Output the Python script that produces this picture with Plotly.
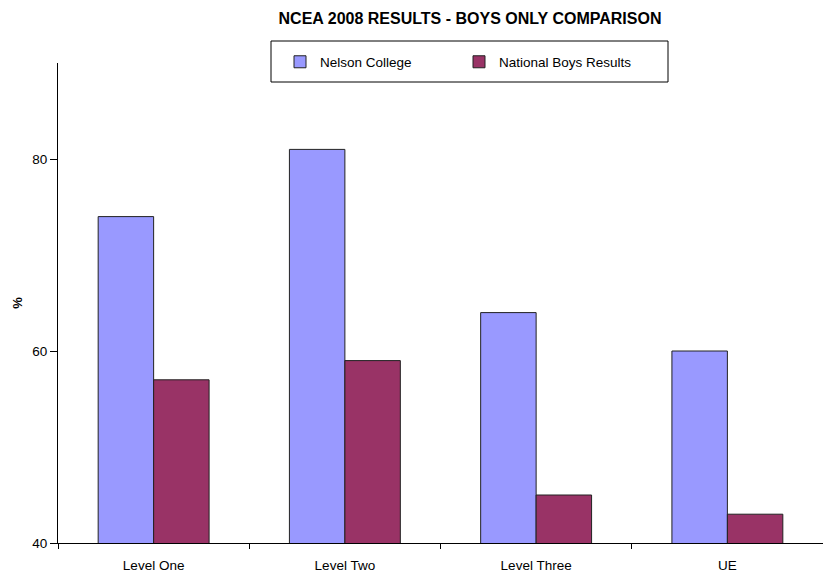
import plotly.graph_objects as go

categories = ["Level One", "Level Two", "Level Three", "UE"]
nelson = [74, 81, 64, 60]
national = [57, 59, 45, 43]
y_ticks = [40, 60, 80]

W, H = 823, 577
ml, mr, mt, mb = 58, 0, 63, 34
pw = W - ml - mr
ph = H - mt - mb

def px_x(x):
    return (x - ml) / pw

def px_y(y):
    return (H - mb - y) / ph

fig = go.Figure()
fig.add_trace(go.Bar(name="Nelson College", x=categories, y=nelson,
                     marker=dict(color="#9999FF", line=dict(color="#222222", width=1))))
fig.add_trace(go.Bar(name="National Boys Results", x=categories, y=national,
                     marker=dict(color="#993366", line=dict(color="#222222", width=1))))

font = "Liberation Sans, Arial, sans-serif"
fig.update_layout(
    width=W, height=H,
    margin=dict(l=ml, r=mr, t=mt, b=mb),
    plot_bgcolor="white", paper_bgcolor="white",
    barmode="group", bargap=0.42, bargroupgap=0,
    font=dict(family=font, size=13, color="black"),
    title=dict(text="<b>NCEA 2008 RESULTS - BOYS ONLY COMPARISON</b>",
               x=470 / W, xanchor="center", y=1 - 18 / H, yanchor="middle",
               font=dict(family=font, size=16, color="black")),
    showlegend=True,
    legend=dict(orientation="h", x=px_x(280), xanchor="left",
                y=px_y(62), yanchor="middle", entrywidth=134, entrywidthmode="pixels",
                font=dict(family=font, size=13.5, color="black"),
                bgcolor="rgba(0,0,0,0)", borderwidth=0),
    xaxis=dict(showline=True, linecolor="black", linewidth=1, ticks="outside",
               ticklen=5, tickcolor="black", tickson="boundaries", showgrid=False,
               ticklabelstandoff=10, tickfont=dict(size=13.5)),
    yaxis=dict(range=[40, 90], tickvals=y_ticks, showline=True, linecolor="black",
               linewidth=1, ticks="outside", ticklen=7, tickcolor="black", showgrid=False,
               zeroline=False, tickfont=dict(size=13.5),
               title=dict(text="<b>%</b>", font=dict(size=13), standoff=6)),
    shapes=[dict(type="rect", xref="paper", yref="paper",
                 x0=px_x(271), x1=px_x(668), y0=px_y(82), y1=px_y(41),
                 line=dict(color="black", width=1), fillcolor="rgba(0,0,0,0)", layer="above")],
)

fig.write_html("out.html")
